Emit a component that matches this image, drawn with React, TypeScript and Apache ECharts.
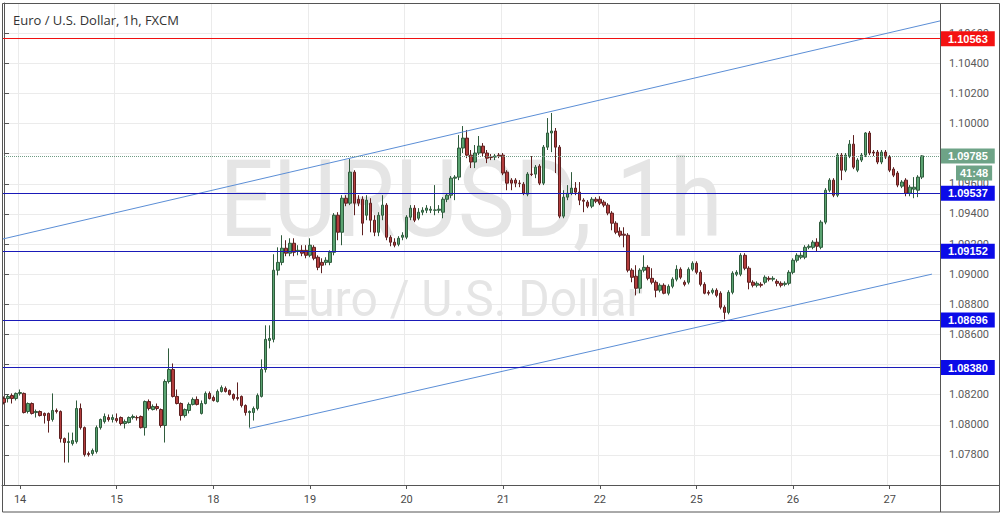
import React, { useEffect, useRef } from "react";
import * as echarts from "echarts";

// ---- axis categories (hourly sessions) ----
const sessionDays = ["13", "14", "15", "18", "19", "20", "21", "22", "25", "26", "27"];
const sessionFirstHour = [20, 0, 0, 0, 0, 0, 0, 0, 0, 0, 0];
const sessionSlots = [4, 24, 24, 24, 24, 24, 24, 24, 24, 24, 13];

// ---- OHLC data, rows are [open, close, low, high] ----
const lateDay13 = [
  [1.08174, 1.08148, 1.08135, 1.08188],
  [1.08174, 1.08188, 1.08148, 1.08201],
  [1.08194, 1.08174, 1.08141, 1.08208],
  [1.08174, 1.08208, 1.08161, 1.08214],
];
const day14 = [
  [1.08208, 1.08214, 1.08194, 1.08234],
  [1.08208, 1.08081, 1.08075, 1.08214],
  [1.08088, 1.08141, 1.08075, 1.08148],
  [1.08141, 1.08075, 1.08068, 1.08148],
  [1.08081, 1.08088, 1.08048, 1.08101],
  [1.08088, 1.08061, 1.08055, 1.08095],
  [1.08075, 1.08061, 1.08008, 1.08081],
  [1.08075, 1.08028, 1.07948, 1.08081],
  [1.08035, 1.08095, 1.08021, 1.08208],
  [1.08095, 1.08088, 1.08075, 1.08108],
  [1.08088, 1.07908, 1.07882, 1.08095],
  [1.07908, 1.07882, 1.07749, 1.07915],
  [1.07882, 1.07888, 1.07749, 1.07948],
  [1.07875, 1.07895, 1.07862, 1.07948],
  [1.07888, 1.08108, 1.07875, 1.08161],
  [1.08108, 1.07981, 1.07968, 1.08141],
  [1.07981, 1.07802, 1.07789, 1.07988],
  [1.07809, 1.07802, 1.07789, 1.07822],
  [1.07809, 1.07829, 1.07795, 1.07842],
  [1.07822, 1.07981, 1.07809, 1.07995],
  [1.07981, 1.08035, 1.07968, 1.08041],
  [1.08021, 1.08055, 1.08008, 1.08075],
  [1.08048, 1.08035, 1.08021, 1.08068],
  [1.08035, 1.08048, 1.08015, 1.08068],
];
const day15 = [
  [1.08041, 1.08028, 1.08015, 1.08075],
  [1.08048, 1.08008, 1.07995, 1.08055],
  [1.08008, 1.08021, 1.07975, 1.08035],
  [1.08015, 1.08048, 1.08008, 1.08055],
  [1.08048, 1.08055, 1.08035, 1.08068],
  [1.08048, 1.08046, 1.08028, 1.08061],
  [1.08055, 1.07981, 1.07975, 1.08061],
  [1.07981, 1.08154, 1.07928, 1.08161],
  [1.08154, 1.08108, 1.08095, 1.08168],
  [1.08101, 1.08121, 1.08095, 1.08135],
  [1.08121, 1.08108, 1.08095, 1.08141],
  [1.08101, 1.07995, 1.07981, 1.08108],
  [1.07995, 1.08287, 1.07882, 1.08301],
  [1.08287, 1.08367, 1.08274, 1.08507],
  [1.08367, 1.08188, 1.08181, 1.08407],
  [1.08188, 1.08141, 1.08135, 1.08234],
  [1.08141, 1.08061, 1.08028, 1.08148],
  [1.08061, 1.08101, 1.08048, 1.08108],
  [1.08095, 1.08135, 1.08075, 1.08148],
  [1.08135, 1.08168, 1.08128, 1.08181],
  [1.08168, 1.08135, 1.08128, 1.08188],
  [1.08075, 1.08141, 1.08068, 1.08161],
  [1.08141, 1.08208, 1.08135, 1.08221],
  [1.08208, 1.08174, 1.08168, 1.08221],
];
const day18 = [
  [1.08181, 1.08161, 1.08154, 1.08194],
  [1.08154, 1.08221, 1.08148, 1.08234],
  [1.08221, 1.08247, 1.08214, 1.08261],
  [1.08241, 1.08221, 1.08214, 1.08254],
  [1.08228, 1.08201, 1.08194, 1.08234],
  [1.08201, 1.08174, 1.08161, 1.08208],
  [1.08181, 1.08174, 1.08161, 1.08281],
  [1.08188, 1.08128, 1.08115, 1.08194],
  [1.08128, 1.08081, 1.08061, 1.08135],
  [1.08081, 1.08088, 1.07981, 1.08095],
  [1.08081, 1.08108, 1.08028, 1.08121],
  [1.08108, 1.08194, 1.08095, 1.08208],
  [1.08188, 1.08367, 1.08181, 1.08434],
  [1.08367, 1.08567, 1.08347, 1.0866],
  [1.0856, 1.08573, 1.08507, 1.0866],
  [1.08567, 1.09026, 1.08547, 1.09132],
  [1.09026, 1.09078, 1.08992, 1.09178],
  [1.09078, 1.09172, 1.09059, 1.09258],
  [1.09172, 1.09139, 1.09119, 1.09225],
  [1.09139, 1.09205, 1.09119, 1.09238],
  [1.09205, 1.09145, 1.09119, 1.09238],
  [1.09152, 1.09158, 1.09125, 1.09192],
  [1.09158, 1.09139, 1.09119, 1.09192],
  [1.09158, 1.09125, 1.09105, 1.09192],
];
const day19 = [
  [1.09125, 1.09192, 1.09112, 1.09238],
  [1.09178, 1.09105, 1.09092, 1.09192],
  [1.09112, 1.09045, 1.09026, 1.09125],
  [1.09078, 1.09059, 1.09006, 1.09105],
  [1.09078, 1.09092, 1.09059, 1.09112],
  [1.09078, 1.09145, 1.09059, 1.09158],
  [1.09145, 1.09391, 1.09125, 1.09405],
  [1.09391, 1.09278, 1.09225, 1.09411],
  [1.09278, 1.09504, 1.09192, 1.09524],
  [1.09504, 1.09471, 1.09451, 1.09524],
  [1.09471, 1.09677, 1.09458, 1.09764],
  [1.09677, 1.09471, 1.09391, 1.0969],
  [1.09497, 1.09471, 1.09451, 1.09524],
  [1.09497, 1.09338, 1.09258, 1.09517],
  [1.09391, 1.09491, 1.09358, 1.09524],
  [1.09471, 1.09358, 1.09278, 1.09504],
  [1.09358, 1.09278, 1.09252, 1.09391],
  [1.09278, 1.09391, 1.09252, 1.09411],
  [1.09391, 1.09458, 1.09358, 1.09524],
  [1.09458, 1.09245, 1.09225, 1.09471],
  [1.09245, 1.09212, 1.09185, 1.09258],
  [1.09212, 1.09192, 1.09178, 1.09238],
  [1.09198, 1.09238, 1.09185, 1.09252],
  [1.09245, 1.09258, 1.09225, 1.09278],
];
const day20 = [
  [1.09245, 1.09378, 1.09232, 1.09391],
  [1.09378, 1.09438, 1.09358, 1.09458],
  [1.09438, 1.09358, 1.09345, 1.09458],
  [1.09371, 1.09411, 1.09358, 1.09438],
  [1.09411, 1.09424, 1.09391, 1.09444],
  [1.09424, 1.09438, 1.09405, 1.09458],
  [1.09424, 1.09431, 1.09405, 1.09451],
  [1.09424, 1.09426, 1.09391, 1.09591],
  [1.09424, 1.09431, 1.09405, 1.09458],
  [1.09411, 1.09497, 1.09371, 1.09511],
  [1.09497, 1.09524, 1.09478, 1.09537],
  [1.09524, 1.09637, 1.09504, 1.09651],
  [1.09637, 1.09644, 1.09491, 1.09657],
  [1.09644, 1.09837, 1.09624, 1.09923],
  [1.09837, 1.09903, 1.09804, 1.09983],
  [1.09903, 1.0979, 1.0977, 1.09957],
  [1.0979, 1.09744, 1.09704, 1.09824],
  [1.09744, 1.09804, 1.09704, 1.09857],
  [1.09804, 1.0985, 1.0979, 1.09917],
  [1.0985, 1.09804, 1.09784, 1.0987],
  [1.09804, 1.0977, 1.09737, 1.09824],
  [1.09777, 1.09775, 1.09757, 1.09797],
  [1.09777, 1.09784, 1.09757, 1.09797],
  [1.0979, 1.09784, 1.0977, 1.09804],
];
const day21 = [
  [1.0979, 1.09671, 1.09657, 1.09804],
  [1.09677, 1.09604, 1.09557, 1.0969],
  [1.09624, 1.09604, 1.09557, 1.09637],
  [1.09624, 1.09604, 1.09577, 1.09637],
  [1.09604, 1.09602, 1.09577, 1.09624],
  [1.09597, 1.09537, 1.09524, 1.09611],
  [1.09531, 1.09664, 1.09517, 1.09677],
  [1.09664, 1.09662, 1.09651, 1.09784],
  [1.09664, 1.0971, 1.09637, 1.09724],
  [1.09717, 1.09604, 1.09591, 1.0973],
  [1.09604, 1.09843, 1.09591, 1.09857],
  [1.09843, 1.09937, 1.09824, 1.10036],
  [1.09937, 1.0995, 1.0981, 1.1007],
  [1.0995, 1.09843, 1.09671, 1.0997],
  [1.09843, 1.09385, 1.09371, 1.09857],
  [1.09385, 1.09511, 1.09371, 1.09557],
  [1.09511, 1.09537, 1.09491, 1.09591],
  [1.09537, 1.09571, 1.09524, 1.09677],
  [1.09571, 1.09544, 1.09524, 1.09611],
  [1.09544, 1.09491, 1.09458, 1.09611],
  [1.09491, 1.09484, 1.09411, 1.09504],
  [1.09478, 1.09451, 1.09438, 1.09491],
  [1.09451, 1.09497, 1.09438, 1.09511],
  [1.09497, 1.09484, 1.09471, 1.09511],
];
const day22 = [
  [1.09497, 1.09471, 1.09458, 1.09517],
  [1.09478, 1.09458, 1.09444, 1.09491],
  [1.09458, 1.09405, 1.09391, 1.09471],
  [1.09405, 1.09338, 1.09291, 1.09418],
  [1.09338, 1.09278, 1.09265, 1.09351],
  [1.09285, 1.09258, 1.09245, 1.09311],
  [1.09265, 1.09258, 1.09178, 1.09311],
  [1.09258, 1.09026, 1.09012, 1.09272],
  [1.09026, 1.08979, 1.08946, 1.09039],
  [1.08986, 1.08906, 1.08859, 1.09059],
  [1.08906, 1.09026, 1.08873, 1.09039],
  [1.09026, 1.09045, 1.09012, 1.09125],
  [1.09045, 1.08972, 1.08959, 1.09059],
  [1.08972, 1.08946, 1.08932, 1.09039],
  [1.08946, 1.08893, 1.08846, 1.08959],
  [1.08893, 1.08926, 1.08879, 1.08939],
  [1.08926, 1.08873, 1.08866, 1.08939],
  [1.08873, 1.08919, 1.08859, 1.08932],
  [1.08919, 1.08966, 1.08906, 1.08979],
  [1.08966, 1.09032, 1.08952, 1.09059],
  [1.09032, 1.08979, 1.08966, 1.09045],
  [1.08946, 1.08932, 1.08919, 1.08959],
  [1.08946, 1.09032, 1.08932, 1.09045],
  [1.09032, 1.09072, 1.09019, 1.09085],
];
const day25 = [
  [1.09072, 1.09012, 1.08999, 1.09085],
  [1.09012, 1.08932, 1.08919, 1.09026],
  [1.08932, 1.08873, 1.08866, 1.08946],
  [1.08879, 1.08873, 1.08859, 1.08893],
  [1.08879, 1.08893, 1.08866, 1.08906],
  [1.08893, 1.08859, 1.08846, 1.08906],
  [1.08873, 1.0878, 1.08766, 1.08886],
  [1.0878, 1.08746, 1.087, 1.08793],
  [1.08746, 1.08879, 1.08733, 1.08893],
  [1.08879, 1.09006, 1.08866, 1.09019],
  [1.08999, 1.09012, 1.08986, 1.09026],
  [1.08999, 1.09125, 1.08986, 1.09139],
  [1.09125, 1.09039, 1.09026, 1.09139],
  [1.09039, 1.08946, 1.08899, 1.09052],
  [1.08946, 1.08926, 1.08912, 1.08959],
  [1.08926, 1.08939, 1.08912, 1.08952],
  [1.08932, 1.08926, 1.08912, 1.08946],
  [1.08946, 1.08979, 1.08932, 1.08992],
  [1.08972, 1.08966, 1.08952, 1.08986],
  [1.08966, 1.08972, 1.08952, 1.08986],
  [1.08952, 1.08939, 1.08919, 1.08966],
  [1.08939, 1.08926, 1.08912, 1.08952],
  [1.08932, 1.08939, 1.08919, 1.08952],
  [1.08939, 1.09012, 1.08926, 1.09026],
];
const day26 = [
  [1.09012, 1.09092, 1.08999, 1.09105],
  [1.09092, 1.09125, 1.09078, 1.09139],
  [1.09112, 1.09125, 1.09099, 1.09145],
  [1.09112, 1.09178, 1.09099, 1.09192],
  [1.09178, 1.09185, 1.09165, 1.09198],
  [1.09178, 1.09212, 1.09165, 1.09225],
  [1.09212, 1.09185, 1.09152, 1.09238],
  [1.09178, 1.09345, 1.09165, 1.09358],
  [1.09345, 1.09557, 1.09331, 1.09571],
  [1.09557, 1.09624, 1.09544, 1.09637],
  [1.09624, 1.09524, 1.09511, 1.09637],
  [1.09524, 1.0979, 1.09511, 1.09804],
  [1.0979, 1.0969, 1.09624, 1.09804],
  [1.0969, 1.0979, 1.09677, 1.09804],
  [1.09784, 1.09863, 1.0977, 1.0989],
  [1.09863, 1.0971, 1.09697, 1.09923],
  [1.0969, 1.09757, 1.09677, 1.0977],
  [1.09757, 1.0979, 1.09744, 1.09804],
  [1.0979, 1.09937, 1.09777, 1.09943],
  [1.09937, 1.09804, 1.0979, 1.0995],
  [1.0981, 1.09804, 1.09784, 1.09824],
  [1.0981, 1.09744, 1.0973, 1.09824],
  [1.09744, 1.0981, 1.0973, 1.09824],
  [1.0981, 1.09777, 1.09764, 1.09824],
];
const day27 = [
  [1.09777, 1.0969, 1.09677, 1.0979],
  [1.09697, 1.09657, 1.09644, 1.0971],
  [1.09671, 1.09591, 1.09577, 1.09684],
  [1.09584, 1.09611, 1.09571, 1.09624],
  [1.09624, 1.09537, 1.09517, 1.09637],
  [1.09537, 1.09577, 1.09517, 1.09591],
  [1.09564, 1.09577, 1.09504, 1.09644],
  [1.09557, 1.09644, 1.09511, 1.09657],
  [1.09644, 1.09785, 1.09631, 1.0979],
];

// ---- annotations (data coordinates: [candle index, price]) ----
const horizontalLevels = [1.10563, 1.09537, 1.09152, 1.08696, 1.0838];
const upperTrendline = [
  [-0.5, 1.09232],
  [232.5, 1.10681],
];
const lowerTrendline = [
  [61, 1.07975],
  [230.5, 1.09],
];
const countdownText = "41:48";
const chartTitle = "Euro / U.S. Dollar, 1h, FXCM";
const watermarkSymbol = "EURUSD, 1h";
const watermarkName = "Euro / U.S. Dollar";

// ---- styles ----
const levelLineColors = ["#f01010", "#1a1ab8", "#1a1ab8", "#1a1ab8", "#1a1ab8"];
const levelLabelColors = ["#f41212", "#0b0be8", "#0b0be8", "#0b0be8", "#0b0be8"];
const lastPriceColor = "#6ea387";

function buildCategories(): string[] {
  const out: string[] = [];
  sessionDays.forEach((d, k) => {
    for (let h = 0; h < sessionSlots[k]; h++) {
      const hour = sessionFirstHour[k] + h;
      out.push(d + " " + String(hour).padStart(2, "0") + ":00");
    }
  });
  return out;
}

export default function App() {
  const ref = useRef<HTMLDivElement>(null);

  useEffect(() => {
    if (!ref.current) return;
    const chart = echarts.init(ref.current, undefined, { renderer: "svg" });
    const categories = buildCategories();
    const candles = [
      ...lateDay13, ...day14, ...day15, ...day18, ...day19, ...day20,
      ...day21, ...day22, ...day25, ...day26, ...day27,
    ];
    const lastClose = day27[day27.length - 1][1];
    const isDayStart = (_i: number, v: string) => String(v).endsWith(" 00:00");
    const axisFont = "Roboto, 'Liberation Sans', Arial, sans-serif";
    const labelFont = "'Liberation Sans', Arial, sans-serif";
    const markedPrices = [...horizontalLevels, lastClose];
    // axis labels that sit fully under a price tag are hidden, as in the reference
    const priceLabel = (v: number) =>
      markedPrices.some((m) => Math.abs(m - v) < 0.0003) ? "" : v.toFixed(5);

    const levelMarks = {
      silent: true,
      symbol: ["none", "none"],
      animation: false,
      precision: 5,
      label: {
        show: true,
        position: "end",
        distance: 1,
        color: "#ffffff",
        fontWeight: "bold",
        fontSize: 11,
        fontFamily: labelFont,
        padding: [2, 7, 2, 7],
        formatter: (p: any) => Number(p.value).toFixed(5),
      },
      data: [
        {
          yAxis: lastClose,
          lineStyle: { color: "rgba(0,0,0,0)", width: 1, type: "solid" },
          label: {
            backgroundColor: lastPriceColor,
            formatter: countdownText,
            offset: [15, 17],
            padding: [2, 4, 2, 4],
          },
        },
        {
          yAxis: lastClose,
          lineStyle: { color: "#6f9b84", width: 1, type: "dotted" },
          label: { backgroundColor: lastPriceColor },
        },
        ...horizontalLevels.map((v, i) => ({
          yAxis: v,
          lineStyle: { color: levelLineColors[i], width: 1, type: "solid" },
          label: { backgroundColor: levelLabelColors[i] },
        })),
      ],
    };

    const option: any = {
      animation: false,
      backgroundColor: "#ffffff",
      grid: { left: 2, right: 63, top: 3, bottom: 30, containLabel: false },
      xAxis: [
        {
          type: "category",
          data: categories,
          boundaryGap: true,
          axisLine: { show: true, lineStyle: { color: "#555555" } },
          axisTick: {
            show: true,
            alignWithLabel: true,
            interval: isDayStart,
            length: 4,
            lineStyle: { color: "#555555" },
          },
          axisLabel: {
            interval: isDayStart,
            formatter: (v: string) => v.split(" ")[0],
            color: "#4a4a4a",
            fontSize: 11,
            margin: 9,
            fontFamily: axisFont,
          },
          splitLine: { show: true, interval: isDayStart, lineStyle: { color: "#ebebeb" } },
        },
        { type: "value", min: -0.5, max: 232.5, show: false, gridIndex: 0 },
      ],
      yAxis: {
        type: "value",
        position: "right",
        min: 1.076,
        max: 1.108,
        interval: 0.002,
        axisLine: { show: true, lineStyle: { color: "#555555" } },
        axisTick: { show: true, length: 5, lineStyle: { color: "#555555" } },
        axisLabel: {
          formatter: priceLabel,
          color: "#5a5a5a",
          fontSize: 11,
          margin: 9,
          fontFamily: axisFont,
          showMinLabel: false,
          showMaxLabel: false,
        },
        splitLine: { show: true, lineStyle: { color: "#ebebeb" } },
      },
      graphic: [
        {
          type: "text",
          x: 471,
          y: 199,
          scaleX: 0.89,
          z: 1,
          silent: true,
          style: {
            text: watermarkSymbol,
            fill: "#e5e5e5",
            fontSize: 108,
            fontFamily: "Roboto, sans-serif",
            align: "center",
            verticalAlign: "middle",
            textAlign: "center",
            textVerticalAlign: "middle",
          },
        },
        {
          type: "text",
          x: 462,
          y: 299,
          scaleX: 0.96,
          z: 1,
          silent: true,
          style: {
            text: watermarkName,
            fill: "#e5e5e5",
            fontSize: 50,
            fontFamily: "Roboto, sans-serif",
            align: "center",
            verticalAlign: "middle",
            textAlign: "center",
            textVerticalAlign: "middle",
          },
        },
        {
          type: "text",
          x: 13,
          y: 20,
          z: 10,
          silent: true,
          style: {
            text: chartTitle,
            fill: "#333333",
            fontSize: 13,
            fontFamily: "'Open Sans', sans-serif",
            align: "left",
            verticalAlign: "middle",
            textAlign: "left",
            textVerticalAlign: "middle",
          },
        },
        {
          type: "rect",
          z: 20,
          silent: true,
          shape: { x: 2.5, y: 3.5, width: 997, height: 508.5 },
          style: { fill: "none", stroke: "#555555", lineWidth: 1 },
        },
        {
          type: "line",
          z: 20,
          silent: true,
          shape: { x1: 940.5, y1: 3.5, x2: 940.5, y2: 512 },
          style: { stroke: "#555555", lineWidth: 1 },
        },
        {
          type: "line",
          z: 20,
          silent: true,
          shape: { x1: 2.5, y1: 485.5, x2: 999.5, y2: 485.5 },
          style: { stroke: "#555555", lineWidth: 1 },
        },
      ],
      series: [
        {
          type: "candlestick",
          name: "EURUSD",
          xAxisIndex: 0,
          yAxisIndex: 0,
          data: candles,
          barWidth: 3,
          z: 3,
          itemStyle: {
            color: "#5aa371",
            color0: "#b33d3d",
            borderColor: "#2f5b3c",
            borderColor0: "#5e2020",
            borderWidth: 1,
          },
        },
        {
          type: "line",
          name: "upper channel",
          xAxisIndex: 1,
          yAxisIndex: 0,
          data: upperTrendline,
          symbol: "none",
          silent: true,
          clip: false,
          z: 4,
          lineStyle: { color: "#5b8ed6", width: 1 },
          markLine: levelMarks,
        },
        {
          type: "line",
          name: "lower channel",
          xAxisIndex: 1,
          yAxisIndex: 0,
          data: lowerTrendline,
          symbol: "none",
          silent: true,
          z: 4,
          lineStyle: { color: "#5b8ed6", width: 1 },
        },
      ],
    };

    chart.setOption(option);
    return () => chart.dispose();
  }, []);

  return (
    <div
      ref={ref}
      style={{ position: "fixed", left: 0, top: 0, width: 1003, height: 515, background: "#ffffff" }}
    />
  );
}
